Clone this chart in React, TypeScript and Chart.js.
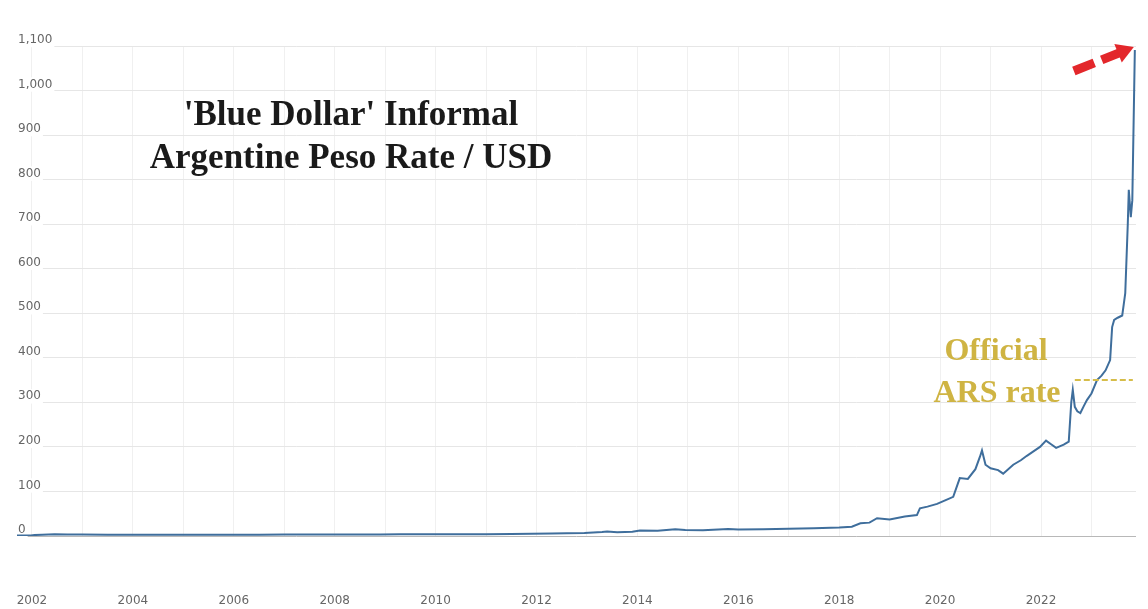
import { useEffect, useRef } from 'react';
import { Chart, registerables } from 'chart.js';

Chart.register(...registerables);

// Blue dollar (informal ARS per USD), decimal year -> rate
const dates = [
  2001.70, 2001.98, 2002.05, 2002.20, 2002.45, 2002.70, 2003.00, 2003.50, 2004.00, 2004.50,
  2005.00, 2005.50, 2006.00, 2006.50, 2007.00, 2007.50, 2008.00, 2008.50, 2008.90, 2009.30,
  2010.00, 2010.50, 2011.00, 2011.50, 2011.90, 2012.30, 2012.60, 2012.95, 2013.30, 2013.40,
  2013.60, 2013.90, 2014.05, 2014.40, 2014.75, 2014.95, 2015.30, 2015.80, 2016.00, 2016.50,
  2017.00, 2017.50, 2018.00, 2018.25, 2018.42, 2018.60, 2018.75, 2019.00, 2019.30, 2019.54,
  2019.60, 2019.75, 2019.94, 2020.10, 2020.26, 2020.39, 2020.55, 2020.70, 2020.79, 2020.83,
  2020.90, 2021.00, 2021.15, 2021.25, 2021.45, 2021.60, 2021.72, 2021.85, 2021.98, 2022.10,
  2022.20, 2022.30, 2022.45, 2022.55, 2022.60, 2022.63, 2022.67, 2022.72, 2022.78, 2022.85,
  2022.91, 2023.00, 2023.11, 2023.20, 2023.28, 2023.37, 2023.41, 2023.45, 2023.52, 2023.61,
  2023.64, 2023.67, 2023.72, 2023.74, 2023.78, 2023.81, 2023.86,
];
const blueRate = [
  1.0, 1.0, 2.1, 3.0, 3.9, 3.6, 3.3, 2.85, 2.95, 2.95,
  2.95, 2.9, 3.05, 3.08, 3.1, 3.12, 3.15, 3.1, 3.45, 3.75,
  3.85, 3.95, 4.0, 4.3, 4.9, 5.8, 6.3, 6.8, 9.2, 10.2,
  8.6, 9.8, 12.5, 11.8, 15.0, 13.5, 12.8, 15.8, 14.5, 15.2,
  16.0, 17.3, 19.2, 21, 28.5, 30, 40, 37, 44, 47,
  62, 66, 72, 80, 88, 130, 128, 150, 178, 192,
  160, 152, 148, 140, 160, 170, 180, 190, 200, 214,
  206, 198, 205, 212, 300, 328, 290, 280, 276, 292,
  305, 320, 350, 360, 372, 395, 469, 485, 490, 495,
  520, 545, 700, 777, 716, 754, 1091,
];

// Official ARS rate marker
const officialDates = [2022.67, 2023.82];
const officialRate = [350, 350];

const yTicks = [0, 100, 200, 300, 400, 500, 600, 700, 800, 900, 1000, 1100];
const gridYears = [
  2002, 2003, 2004, 2005, 2006, 2007, 2008, 2009, 2010, 2011, 2012,
  2013, 2014, 2015, 2016, 2017, 2018, 2019, 2020, 2021, 2022, 2023,
];
const xLabelYears = [2002, 2004, 2006, 2008, 2010, 2012, 2014, 2016, 2018, 2020, 2022];

const titleLines = ["'Blue Dollar' Informal", 'Argentine Peso Rate / USD'];
const officialLabel = ['Official', 'ARS rate'];

const X_MIN = 2001.703;
const X_MAX = 2023.883;

const annotations = {
  id: 'annotations',
  beforeDraw(chart: any) {
    const { ctx, width, height } = chart;
    ctx.save();
    ctx.fillStyle = '#ffffff';
    ctx.fillRect(0, 0, width, height);
    ctx.restore();
  },
  afterDatasetsDraw(chart: any) {
    const { ctx } = chart;
    const xs = chart.scales.x;
    const ys = chart.scales.y;
    ctx.save();
    // title
    ctx.fillStyle = '#1a1a1a';
    ctx.font = 'bold 35px "Liberation Serif"';
    ctx.textAlign = 'center';
    ctx.textBaseline = 'alphabetic';
    ctx.fillText(titleLines[0], 351, 125);
    ctx.fillText(titleLines[1], 351, 168);

    // official label
    ctx.fillStyle = '#cfb443';
    ctx.font = 'bold 32px "Liberation Serif"';
    ctx.fillText(officialLabel[0], 996, 360);
    ctx.fillText(officialLabel[1], 997, 402);

    // red arrow pointing at the latest value
    const lastT = dates[dates.length - 1];
    const tipX = xs.getPixelForValue(lastT) - 1;
    const tipY = ys.getPixelForValue(1100) + 1;
    const tailX = tipX - 60;
    const tailY = tipY + 24;
    const dx = tipX - tailX;
    const dy = tipY - tailY;
    const len = Math.sqrt(dx * dx + dy * dy);
    const ux = dx / len;
    const uy = dy / len;
    const nx = -uy;
    const ny = ux;
    const headLen = 17;
    const headHalf = 10;
    const baseX = tipX - ux * headLen;
    const baseY = tipY - uy * headLen;
    ctx.strokeStyle = '#e3272b';
    ctx.fillStyle = '#e3272b';
    ctx.lineWidth = 9;
    ctx.lineCap = 'butt';
    ctx.setLineDash([22, 8]);
    ctx.beginPath();
    ctx.moveTo(tailX, tailY);
    ctx.lineTo(baseX + ux * 2, baseY + uy * 2);
    ctx.stroke();
    ctx.setLineDash([]);
    ctx.beginPath();
    ctx.moveTo(tipX, tipY);
    ctx.lineTo(baseX + nx * headHalf, baseY + ny * headHalf);
    ctx.lineTo(baseX - nx * headHalf, baseY - ny * headHalf);
    ctx.closePath();
    ctx.fill();
    ctx.restore();
  },
};

export default function App() {
  const canvasRef = useRef<HTMLCanvasElement | null>(null);

  useEffect(() => {
    const canvas = canvasRef.current;
    if (!canvas) return;
    const chart = new Chart(canvas, {
      type: 'line',
      data: {
        datasets: [
          {
            label: 'Official ARS rate',
            data: officialDates.map((t, i) => ({ x: t, y: officialRate[i] })),
            borderColor: '#d6bd4a',
            borderWidth: 2,
            borderDash: [6, 3],
            pointRadius: 0,
            fill: false,
          },
          {
            label: 'Blue Dollar',
            data: dates.map((t, i) => ({ x: t, y: blueRate[i] })),
            borderColor: '#3f6e9c',
            borderWidth: 2,
            pointRadius: 0,
            tension: 0,
            fill: false,
          },
        ],
      },
      options: {
        responsive: false,
        animation: false,
        devicePixelRatio: 1,
        layout: { padding: { top: 46, right: 12, left: 0, bottom: 0 } },
        plugins: {
          legend: { display: false },
          title: { display: false },
          tooltip: { enabled: false },
        },
        scales: {
          x: {
            type: 'linear',
            min: X_MIN,
            max: X_MAX,
            afterBuildTicks: (s: any) => {
              s.ticks = gridYears.map((v) => ({ value: v }));
            },
            afterFit: (s: any) => {
              s.height = 73;
              s.paddingLeft = 0;
              s.paddingRight = 0;
            },
            ticks: {
              autoSkip: false,
              maxRotation: 0,
              minRotation: 0,
              padding: 58,
              color: '#666666',
              font: { family: 'DejaVu Sans', size: 12 },
              callback: (v: any) => (xLabelYears.includes(Number(v)) ? String(v) : ''),
            },
            grid: { color: '#f0f0f0', drawTicks: false },
            border: { display: false },
          },
          y: {
            type: 'linear',
            min: 0,
            max: 1100,
            afterBuildTicks: (s: any) => {
              s.ticks = yTicks.map((v) => ({ value: v }));
            },
            afterFit: (s: any) => {
              s.width = 17;
              s.paddingTop = 0;
              s.paddingBottom = 0;
            },
            ticks: {
              mirror: true,
              padding: 1,
              labelOffset: -6,
              color: '#666666',
              font: { family: 'DejaVu Sans', size: 12 },
              showLabelBackdrop: true,
              backdropColor: '#ffffff',
              backdropPadding: { top: 0, bottom: 0, left: 1, right: 2 },
              callback: (v: any) => Number(v).toLocaleString('en-US'),
            },
            grid: {
              color: (c: any) => (c.tick && c.tick.value === 0 ? '#b8b8b8' : '#e6e6e6'),
              drawTicks: false,
            },
            border: { display: false },
          },
        },
      },
      plugins: [annotations],
    } as any);
    return () => chart.destroy();
  }, []);

  return (
    <div style={{ position: 'absolute', left: 0, top: 0, width: 1148, height: 609, background: '#fff' }}>
      <canvas ref={canvasRef} width={1148} height={609} style={{ display: 'block' }} />
    </div>
  );
}
